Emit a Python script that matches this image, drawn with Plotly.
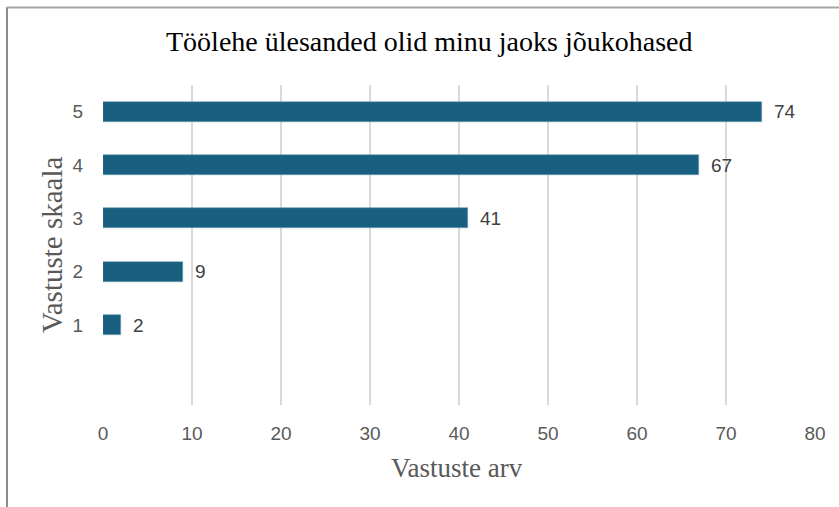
import plotly.graph_objects as go

categories = [1, 2, 3, 4, 5]
values = [2, 9, 41, 67, 74]
x_ticks = [0, 10, 20, 30, 40, 50, 60, 70, 80]

title_text = "Töölehe ülesanded olid minu jaoks jõukohased"
x_title = "Vastuste arv"
y_title = "Vastuste skaala"

bar_color = "#195F80"
W, H = 839, 507
L, R, T, B = 103, 24, 85, 102
PW, PH = W - L - R, H - T - B

def px(xp):
    return (xp - L) / PW

def py(yp):
    return (H - B - yp) / PH

SANS = "Liberation Sans, Arial"
SERIF = "Liberation Serif, Times New Roman"

fig = go.Figure()
fig.add_trace(go.Bar(
    x=values, y=categories, orientation="h",
    width=0.37,
    marker=dict(color=bar_color, line=dict(color="#6F9DB5", width=0.6)),
    hoverinfo="skip",
))

for v, c in zip(values, categories):
    fig.add_annotation(x=v, y=c, xref="x", yref="y", text=str(v),
                       showarrow=False, xanchor="left", yanchor="middle",
                       xshift=10, font=dict(family=SANS, size=19, color="#404040"))

fig.update_layout(
    width=W, height=H,
    margin=dict(l=L, r=R, t=T, b=B),
    paper_bgcolor="white", plot_bgcolor="white",
    showlegend=False,
    bargap=0,
    xaxis=dict(range=[0, 80], tickvals=x_ticks, showgrid=True, gridcolor="#D9D9D9",
               gridwidth=1.5, zeroline=False, showline=False, ticks="",
               ticklabelstandoff=15,
               tickfont=dict(family=SANS, size=19, color="#595959"),
               fixedrange=True),
    yaxis=dict(range=[-0.5, 5.5], tickvals=categories, ticktext=[str(c) for c in categories],
               showgrid=False, zeroline=False, showline=False, ticks="",
               ticklabelstandoff=19,
               tickfont=dict(family=SANS, size=19, color="#595959"),
               fixedrange=True),
)

fig.add_annotation(text=title_text, xref="paper", yref="paper",
                   x=px(429), y=py(41),
                   showarrow=False, xanchor="center", yanchor="middle",
                   font=dict(family=SERIF, size=28, color="#000000"))
fig.add_annotation(text=x_title, xref="paper", yref="paper",
                   x=px(457), y=py(468),
                   showarrow=False, xanchor="center", yanchor="middle",
                   font=dict(family=SERIF, size=27, color="#595959"))
fig.add_annotation(text=y_title, xref="paper", yref="paper",
                   x=px(52), y=0.5, textangle=-90,
                   showarrow=False, xanchor="center", yanchor="middle",
                   font=dict(family=SERIF, size=29, color="#595959"))

# chart frame (left and top border of the chart object)
fig.add_shape(type="line", xref="paper", yref="paper",
              x0=px(7), x1=px(7), y0=py(7), y1=py(507),
              line=dict(color="#8C8C8C", width=2))
fig.add_shape(type="line", xref="paper", yref="paper",
              x0=px(7), x1=px(839), y0=py(7.5), y1=py(7.5),
              line=dict(color="#A6A6A6", width=2))

fig.write_html("out.html", config={"displayModeBar": False},
               post_script="document.body.style.margin='0';")
